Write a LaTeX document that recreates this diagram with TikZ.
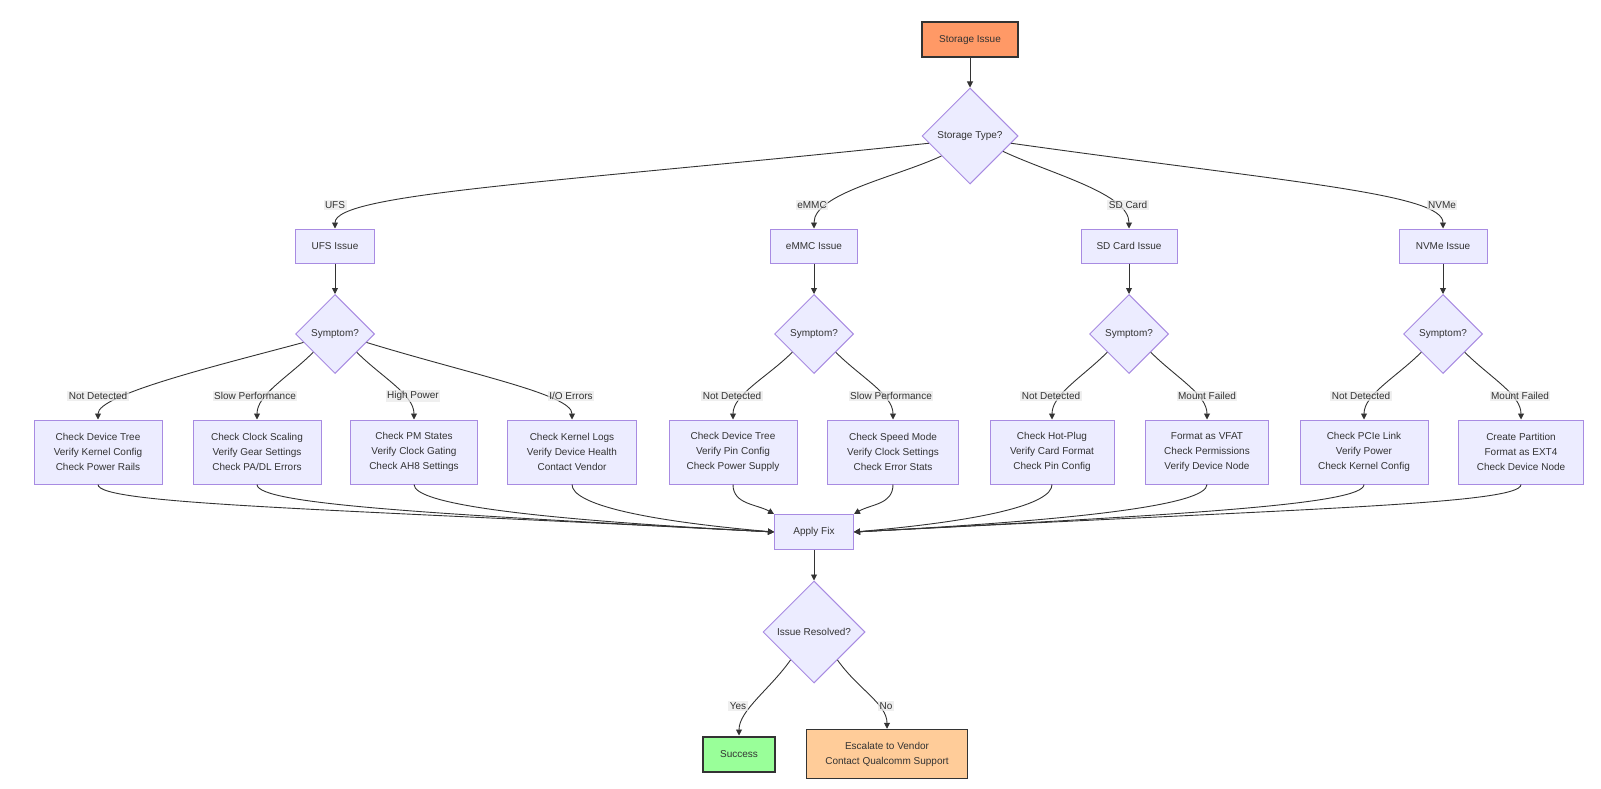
\documentclass[tikz,border=0pt]{standalone}
\usepackage{fontspec}
\setmainfont{Liberation Sans}
\usetikzlibrary{arrows.meta,shapes.geometric}
\definecolor{mfill}{HTML}{ECECFF}
\definecolor{mline}{HTML}{A88BE2}
\definecolor{mdark}{HTML}{333333}
\definecolor{corange}{HTML}{FF9966}
\definecolor{cgreen}{HTML}{99FF99}
\definecolor{cpeach}{HTML}{FFCC99}
\definecolor{labbg}{HTML}{E8E8E8}
\newcommand{\mmfont}{\fontsize{10}{15}\selectfont}
\tikzset{
  proc/.style={rectangle,fill=mfill,draw=mline,line width=1pt,align=center,
    inner sep=0pt,minimum height=34pt,font=\mmfont,text=mdark},
  leaf/.style={proc,minimum height=64pt},
  decide/.style={diamond,aspect=1,fill=mfill,draw=mline,line width=1pt,
    inner sep=0pt,font=\mmfont,text=mdark},
  % coloured terminal boxes
  startbox/.style={proc,fill=corange,draw=mdark,line width=2pt,minimum height=35pt},
  okbox/.style={proc,fill=cgreen,draw=mdark,line width=2pt,minimum height=35pt},
  escbox/.style={proc,fill=cpeach,draw=mdark,line width=1.5pt,minimum height=49pt},
  lab/.style={fill=labbg,fill opacity=0.7,text opacity=1,text=mdark,inner sep=1.5pt,font=\mmfont},
  arr/.style={draw=mdark,line width=0.9pt,-{Triangle[length=6pt,width=6pt]}}
}
\begin{document}
\begin{tikzpicture}[x=1pt,y=1pt]
  \useasboundingbox (0,0) rectangle (1601,-789);
  \node[startbox,minimum width=96pt] (si) at (970,-40) {Storage Issue};
  \node[decide,minimum width=96pt,minimum height=96pt] (st) at (970,-136) {Storage Type?};
  % storage kinds
  \node[proc,minimum width=79pt] (ufs) at (335,-246) {UFS Issue};
  \node[proc,minimum width=87pt] (emmc) at (814,-246) {eMMC Issue};
  \node[proc,minimum width=96pt] (sd) at (1129,-246) {SD Card Issue};
  \node[proc,minimum width=88pt] (nvme) at (1443,-246) {NVMe Issue};
  \node[decide,minimum width=79pt,minimum height=79pt] (ufsq) at (335,-334) {Symptom?};
  \node[decide,minimum width=79pt,minimum height=79pt] (emmcq) at (814,-334) {Symptom?};
  \node[decide,minimum width=79pt,minimum height=79pt] (sdq) at (1129,-334) {Symptom?};
  \node[decide,minimum width=79pt,minimum height=79pt] (nvmeq) at (1443,-334) {Symptom?};
  % checks
  \node[leaf,minimum width=128pt] (u1) at (98,-452) {Check Device Tree\\Verify Kernel Config\\Check Power Rails};
  \node[leaf,minimum width=128pt] (u2) at (257,-452) {Check Clock Scaling\\Verify Gear Settings\\Check PA/DL Errors};
  \node[leaf,minimum width=127pt] (u3) at (414,-452) {Check PM States\\Verify Clock Gating\\Check AH8 Settings};
  \node[leaf,minimum width=129pt] (u4) at (572,-452) {Check Kernel Logs\\Verify Device Health\\Contact Vendor};
  \node[leaf,minimum width=128pt] (e1) at (733,-452) {Check Device Tree\\Verify Pin Config\\Check Power Supply};
  \node[leaf,minimum width=131pt] (e2) at (893,-452) {Check Speed Mode\\Verify Clock Settings\\Check Error Stats};
  \node[leaf,minimum width=124pt] (d1) at (1052,-452) {Check Hot-Plug\\Verify Card Format\\Check Pin Config};
  \node[leaf,minimum width=123pt] (d2) at (1207,-452) {Format as VFAT\\Check Permissions\\Verify Device Node};
  \node[leaf,minimum width=128pt] (n1) at (1364,-452) {Check PCIe Link\\Verify Power\\Check Kernel Config};
  \node[leaf,minimum width=125pt] (n2) at (1521,-452) {Create Partition\\Format as EXT4\\Check Device Node};
  \node[proc,minimum width=79pt,minimum height=35pt] (fix) at (814,-532) {Apply Fix};
  \node[decide,minimum width=102pt,minimum height=102pt] (res) at (814,-632) {Issue Resolved?};
  \node[okbox,minimum width=72pt] (ok) at (739,-754) {Success};
  \node[escbox,minimum width=161pt] (esc) at (887,-754) {Escalate to Vendor\\Contact Qualcomm Support};

  \draw[arr] (si) -- (st);
  \draw[arr] (st.190) to[out=186,in=90,out distance=380pt,in distance=35pt] (ufs.north);
  \draw[arr] (st.215) to[out=205,in=90,out distance=50pt,in distance=35pt] (emmc.north);
  \draw[arr] (st.-25) to[out=-25,in=90,out distance=55pt,in distance=35pt] (sd.north);
  \draw[arr] (st.-10) to[out=-8,in=90,out distance=280pt,in distance=35pt] (nvme.north);
  \draw[arr] (ufs) -- (ufsq);
  \draw[arr] (emmc) -- (emmcq);
  \draw[arr] (sd) -- (sdq);
  \draw[arr] (nvme) -- (nvmeq);
  % symptoms
  \draw[arr] (ufsq.195) to[out=195,in=90,out distance=90pt,in distance=25pt] (u1.north);
  \draw[arr] (ufsq.220) to[out=225,in=90,out distance=35pt,in distance=25pt] (u2.north);
  \draw[arr] (ufsq.-40) to[out=-45,in=90,out distance=35pt,in distance=25pt] (u3.north);
  \draw[arr] (ufsq.-15) to[out=-17,in=90,out distance=110pt,in distance=25pt] (u4.north);
  \draw[arr] (emmcq.220) to[out=225,in=90,out distance=35pt,in distance=25pt] (e1.north);
  \draw[arr] (emmcq.-40) to[out=-45,in=90,out distance=35pt,in distance=25pt] (e2.north);
  \draw[arr] (sdq.220) to[out=225,in=90,out distance=35pt,in distance=25pt] (d1.north);
  \draw[arr] (sdq.-40) to[out=-45,in=90,out distance=35pt,in distance=25pt] (d2.north);
  \draw[arr] (nvmeq.220) to[out=225,in=90,out distance=35pt,in distance=25pt] (n1.north);
  \draw[arr] (nvmeq.-40) to[out=-45,in=90,out distance=35pt,in distance=25pt] (n2.north);
  % everything meets at Apply Fix
  \draw[arr] (u1.south) to[out=-90,in=177,out distance=20pt,in distance=450pt] (fix.west);
  \draw[arr] (u2.south) to[out=-90,in=177,out distance=20pt,in distance=340pt] (fix.west);
  \draw[arr] (u3.south) to[out=-90,in=177,out distance=20pt,in distance=240pt] (fix.west);
  \draw[arr] (u4.south) to[out=-90,in=175,out distance=20pt,in distance=130pt] (fix.west);
  \draw[arr] (e1.south) to[out=-90,in=150,out distance=20pt,in distance=20pt] (fix.north west);
  \draw[arr] (e2.south) to[out=-90,in=30,out distance=20pt,in distance=20pt] (fix.north east);
  \draw[arr] (d1.south) to[out=-90,in=5,out distance=20pt,in distance=130pt] (fix.east);
  \draw[arr] (d2.south) to[out=-90,in=3,out distance=20pt,in distance=230pt] (fix.east);
  \draw[arr] (n1.south) to[out=-90,in=3,out distance=20pt,in distance=330pt] (fix.east);
  \draw[arr] (n2.south) to[out=-90,in=3,out distance=20pt,in distance=440pt] (fix.east);
  \draw[arr] (fix) -- (res);
  \draw[arr] (res.230) to[out=235,in=90,out distance=35pt,in distance=25pt] (ok.north);
  \draw[arr] (res.-50) to[out=-55,in=90,out distance=35pt,in distance=25pt] (esc.north);

  % edge labels
  \node[lab] (lufs) at (335,-205) {UFS};
  \node[lab] (lemmc) at (812,-205) {eMMC};
  \node[lab] (lsd) at (1128,-205) {SD Card};
  \node[lab] (lnvme) at (1442,-205) {NVMe};
  \node[lab] (lu1) at (98,-396) {Not Detected};
  \node[lab] (lu2) at (255,-396) {Slow Performance};
  \node[lab] (lu3) at (413,-396) {High Power};
  \node[lab] (lu4) at (571,-396) {I/O Errors};
  \node[lab] (le1) at (732,-396) {Not Detected};
  \node[lab] (le2) at (891,-396) {Slow Performance};
  \node[lab] (ld1) at (1051,-396) {Not Detected};
  \node[lab] (ld2) at (1207,-396) {Mount Failed};
  \node[lab] (ln1) at (1361,-396) {Not Detected};
  \node[lab] (ln2) at (1520,-396) {Mount Failed};
  \node[lab] (lyes) at (738,-706) {Yes};
  \node[lab] (lno) at (886,-706) {No};
\end{tikzpicture}
\end{document}
